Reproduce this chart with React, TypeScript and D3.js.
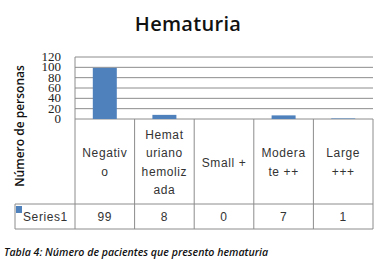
import React from "react";
import * as d3 from "d3";

const categories: string[][] = [
  ["Negativ", "o"],
  ["Hemat", "uriano", "hemoliz", "ada"],
  ["Small +"],
  ["Modera", "te ++"],
  ["Large", "+++"],
];
const values = [99, 8, 0, 7, 1];
const yTicks = [0, 20, 40, 60, 80, 100, 120];
const seriesName = "Series1";
const title = "Hematuria";
const yLabel = "Número de personas";
const caption = "Tabla 4: Número de pacientes que presento hematuria";

const W = 382, H = 260;
const plotL = 75, plotR = 373, plotT = 57, plotB = 119;
const headB = 204, tableB = 229, legendL = 15;
const blue = "#4F81BD";
const grid = "#8c8c8c";

export default function App() {
  const x = d3.scaleBand<number>().domain(d3.range(values.length)).range([plotL, plotR]);
  const y = d3.scaleLinear().domain([0, 120]).range([plotB, plotT]);
  const bw = 24;
  const lineH = 18.5;
  const font = "'Liberation Sans', Arial, sans-serif";
  return (
    <svg width={W} height={H} style={{ position: "absolute", left: 0, top: 0, background: "#fff" }}>
      <text x={188} y={31} textAnchor="middle" fontFamily="'Open Sans', sans-serif" fontWeight={600} fontSize={20} letterSpacing={0.3} fill="#111">{title}</text>
      {yTicks.map((t) => (
        <line key={"g" + t} x1={plotL} x2={plotR} y1={y(t)} y2={y(t)} stroke={grid} strokeWidth={1} />
      ))}
      {yTicks.map((t) => (
        <text key={"t" + t} x={61} y={y(t) + 4} textAnchor="end" fontFamily="'Liberation Serif', serif" fontSize={13} fill="#222">{t}</text>
      ))}
      <text transform={`translate(24,126) rotate(-90)`} textAnchor="middle" fontFamily="'Open Sans', sans-serif" fontWeight={600} fontSize={12} fill="#111">{yLabel}</text>
      {values.map((v, i) => (
        <rect key={"b" + i} x={x(i)! + x.bandwidth() / 2 - bw / 2} y={y(v)} width={bw} height={plotB - y(v)} fill={blue} />
      ))}
      <line x1={plotL} x2={plotL} y1={plotT} y2={tableB} stroke={grid} />
      {values.map((_, i) => (
        <line key={"v" + i} x1={x(i)! + x.bandwidth()} x2={x(i)! + x.bandwidth()} y1={plotB} y2={tableB} stroke={grid} />
      ))}
      <line x1={legendL} x2={plotR} y1={headB} y2={headB} stroke={grid} />
      <line x1={legendL} x2={plotR} y1={tableB} y2={tableB} stroke={grid} />
      <line x1={legendL} x2={legendL} y1={headB} y2={tableB} stroke={grid} />
      {categories.map((lines, i) => {
        const cx = x(i)! + x.bandwidth() / 2;
        const cy = (plotB + headB) / 2 + 1;
        return lines.map((l, j) => (
          <text key={"c" + i + j} x={cx} y={cy + (j - (lines.length - 1) / 2) * lineH} dominantBaseline="central" textAnchor="middle" fontFamily={font} fontSize={12} letterSpacing={0.6} fill="#333">{l}</text>
        ));
      })}
      <rect x={16} y={206} width={6} height={7} fill={blue} />
      <text x={23} y={217} dominantBaseline="central" fontFamily={font} fontSize={12} letterSpacing={0.6} fill="#333">{seriesName}</text>
      {values.map((v, i) => (
        <text key={"val" + i} x={x(i)! + x.bandwidth() / 2} y={217} dominantBaseline="central" textAnchor="middle" fontFamily={font} fontSize={12} letterSpacing={0.6} fill="#333">{v}</text>
      ))}
      <text x={4} y={256} fontFamily="'Open Sans', sans-serif" fontStyle="italic" fontWeight={600} fontSize={10.6} fill="#111">{caption}</text>
    </svg>
  );
}
